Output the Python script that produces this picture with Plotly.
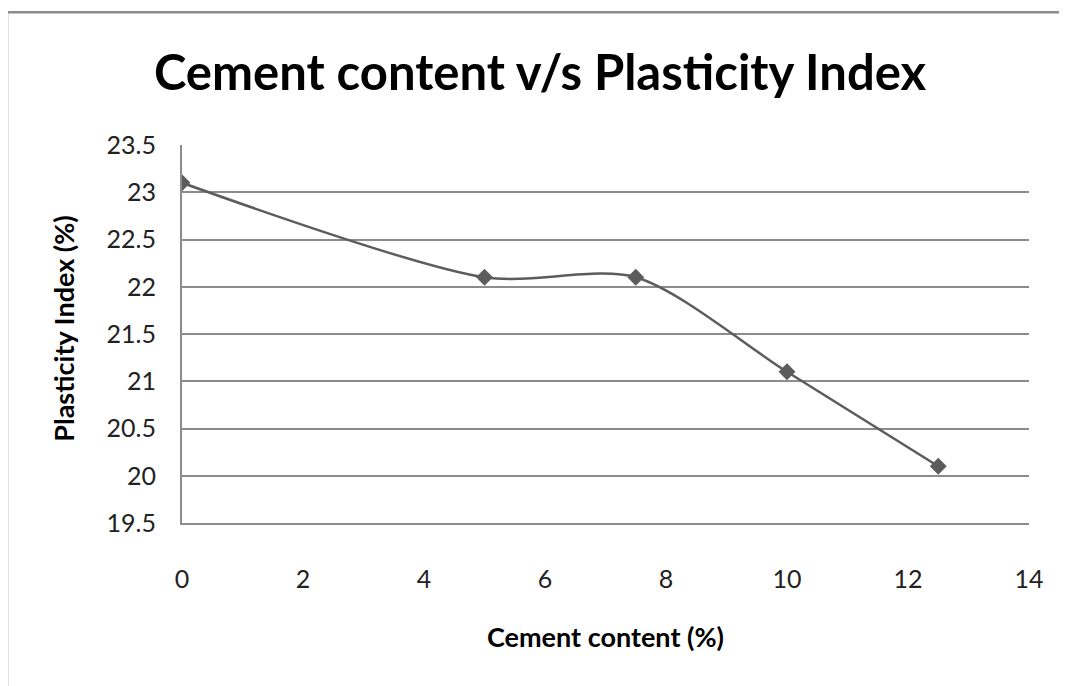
import plotly.graph_objects as go

cement = [0, 5, 7.5, 10, 12.5]
plasticity = [23.1, 22.1, 22.1, 21.1, 20.1]
x_ticks = [0, 2, 4, 6, 8, 10, 12, 14]
y_ticks = [19.5, 20, 20.5, 21, 21.5, 22, 22.5, 23, 23.5]

OFF = 8  # browser body margin
W, H = 1067 - OFF, 686 - OFF
# target plot area in screen pixels
L, R, T, B = 182, 1029, 145, 523.5

fig = go.Figure()
fig.add_trace(go.Scatter(
    x=cement, y=plasticity, mode="lines+markers",
    line=dict(color="#5c5c5c", width=2.5, shape="spline", smoothing=0.8),
    marker=dict(symbol="diamond", size=13, color="#5c5c5c"),
    showlegend=False,
))

fig.update_layout(
    width=W, height=H,
    margin=dict(l=L - OFF, r=W - (R - OFF), t=T - OFF, b=H - (B - OFF)),
    paper_bgcolor="white", plot_bgcolor="white",
    font=dict(family="Lato, Carlito, sans-serif", color="#222222"),
    title=dict(text="<b>Cement content v/s Plasticity Index</b>",
               x=(540 - OFF) / W, xanchor="center", xref="container",
               y=1 - (73 - OFF) / H, yanchor="middle", yref="container",
               font=dict(size=49, color="#000000")),
    xaxis=dict(range=[0, 14], tickvals=x_ticks, ticktext=[str(v) for v in x_ticks],
               showgrid=False, showline=True, linecolor="#8c8c8c", linewidth=2,
               ticks="", ticklabelstandoff=33, zeroline=False,
               tickfont=dict(size=25, color="#222222")),
    yaxis=dict(range=[19.5, 23.5], tickvals=y_ticks, ticktext=[f"{v:g}" for v in y_ticks],
               showgrid=True, gridcolor="#8c8c8c", gridwidth=1.5,
               showline=True, linecolor="#8c8c8c", linewidth=2,
               ticks="", ticklabelstandoff=19, zeroline=False,
               tickfont=dict(size=25, color="#222222")),
    annotations=[
        dict(text="<b>Cement content (%)</b>", xref="paper", yref="paper",
             x=0.5, y=(B - 637) / (B - T), xanchor="center", yanchor="middle",
             showarrow=False, font=dict(size=27, color="#000000")),
        dict(text="<b>Plasticity Index (%)</b>", xref="paper", yref="paper",
             x=(64 - L) / (R - L), y=(B - 329) / (B - T), xanchor="center", yanchor="middle",
             textangle=-90, showarrow=False, font=dict(size=27, color="#000000")),
    ],
    shapes=[
        dict(type="rect", xref="paper", yref="paper",
             x0=(7 - L) / (R - L), x1=(1090 - L) / (R - L),
             y0=(B - 720) / (B - T), y1=(B - 12) / (B - T),
             line=dict(color="#8c8c8c", width=2.5), fillcolor="rgba(0,0,0,0)", layer="below"),
    ],
)

fig.write_html("out.html")
